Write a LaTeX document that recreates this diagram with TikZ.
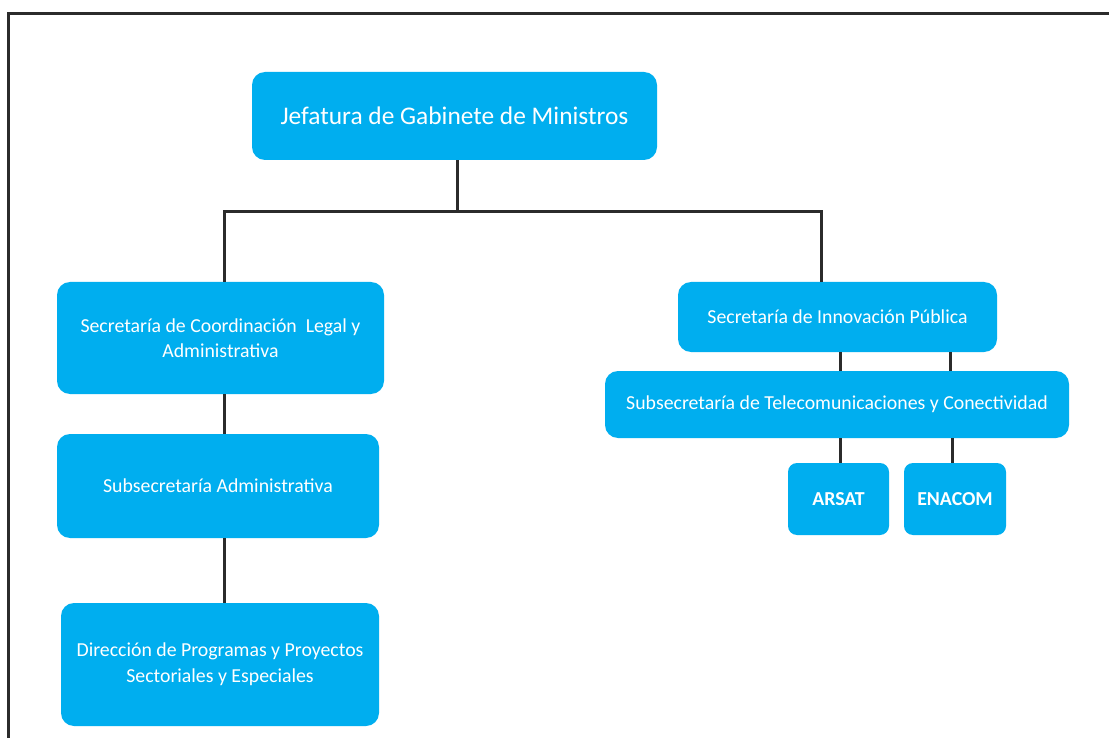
\documentclass[tikz,border=0pt]{standalone}
\usepackage{fontspec}
\setmainfont{Carlito}
\definecolor{boxblue}{HTML}{00AEEF}
\definecolor{linegray}{HTML}{2B2B2B}
\tikzset{
  orgbox/.style={fill=boxblue, draw=none, rounded corners=13pt, inner sep=0pt,
    text=white, align=center, font=\fontsize{19.8}{25}\selectfont},
  smallbox/.style={orgbox, rounded corners=9pt, minimum height=72pt,
    font=\fontsize{19.8}{25}\selectfont\bfseries},
  conn/.style={draw=linegray, line width=3pt},
}
\begin{document}
\begin{tikzpicture}[x=1pt,y=-1pt]
\useasboundingbox (0,0) rectangle (1109,738);
\fill[white] (0,0) rectangle (1109,738);
\draw[linegray, line width=3pt] (8,738) -- (8,14) -- (1109,14);

\node[orgbox, minimum width=405pt, minimum height=88pt, font=\fontsize{25.4}{30}\selectfont] (jgm) at (454.5,116) {Jefatura de Gabinete de Ministros};
\node[orgbox, minimum width=327pt, minimum height=112pt] (slya) at (220.5,338) {Secretaría de Coordinación\ \ Legal y\\Administrativa};
\node[orgbox, minimum width=322pt, minimum height=104pt] (sa) at (218,486) {Subsecretaría Administrativa};
\node[orgbox, minimum width=318pt, minimum height=123pt] (dpp) at (220,664.5) {Dirección\ de Programas y Proyectos\\[1pt]Sectoriales y Especiales};
\node[orgbox, minimum width=319pt, minimum height=70pt] (sip) at (837.5,317) {Secretaría de Innovación Pública};
\node[orgbox, minimum width=464pt, minimum height=67pt] (stc) at (837,404.5) {Subsecretaría de Telecomunicaciones y Conectividad};
\node[smallbox, minimum width=101pt] (arsat) at (838.5,499) {ARSAT};
\node[smallbox, minimum width=102pt] (enacom) at (955,499) {ENACOM};

\coordinate (bt) at (457,212);
\coordinate (bl) at (224,212);
\coordinate (br) at (821,212);
\coordinate (ca) at (840,0);
\coordinate (cb) at (950,0);
\coordinate (cc) at (952,0);

\draw[conn] (jgm.south -| bt) -- (bt);
\draw[conn] (slya.north -| bl) -- (bl) -- (br) -- (sip.north -| br);
\draw[conn] (slya.south -| bl) -- (sa.north -| bl);
\draw[conn] (sa.south -| bl) -- (dpp.north -| bl);
\draw[conn] (sip.south -| ca) -- (stc.north -| ca);
\draw[conn] (sip.south -| cb) -- (stc.north -| cb);
\draw[conn] (stc.south -| ca) -- (arsat.north -| ca);
\draw[conn] (stc.south -| cc) -- (enacom.north -| cc);
\end{tikzpicture}
\end{document}
